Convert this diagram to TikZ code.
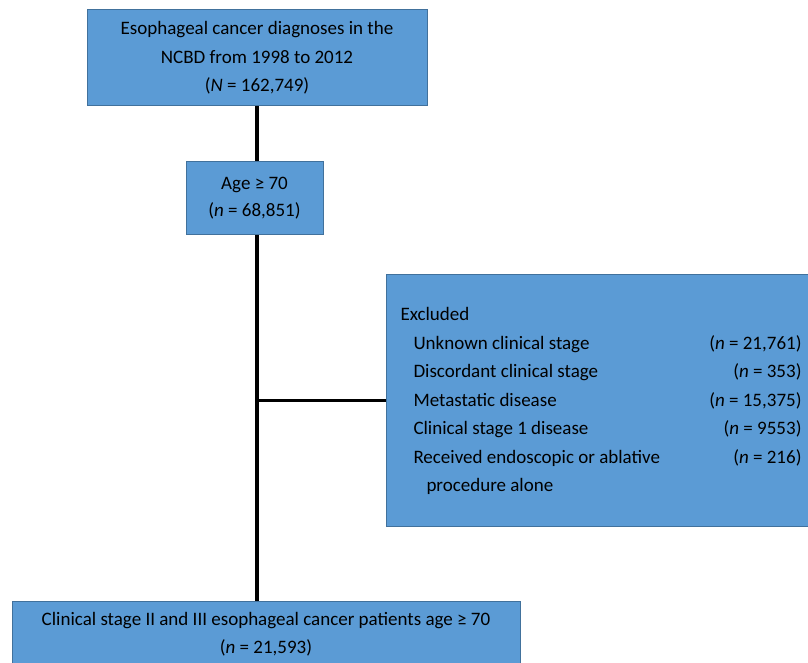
\documentclass[tikz,border=0pt]{standalone}
\usepackage{fontspec}
\setmainfont{Carlito}
\usepackage{xcolor}
\usetikzlibrary{calc}
\definecolor{boxfill}{HTML}{5B9BD5}
\definecolor{boxline}{HTML}{41719C}

\tikzset{
	flowbox/.style={draw=boxline, fill=boxfill, line width=1pt, align=center,
		font=\fontsize{19}{28.5}\selectfont},
	trunk/.style={line width=3.5pt, black},
	branch/.style={line width=3pt, black}
}

\begin{document}
\begin{tikzpicture}[x=1pt,y=-1pt]
		% Canvas
		\useasboundingbox (0,0) rectangle (808,663);
		
		% Main flow boxes
		\node[flowbox, minimum width=340pt, minimum height=96pt] (diag) at (257,58)
		{Esophageal cancer diagnoses in the\\NCBD from 1998 to 2012\\(\textit{N} = 162,749)};
		\node[flowbox, minimum width=137pt, minimum height=73pt, font=\fontsize{19}{27}\selectfont] (age) at (254.5,198)
		{Age ≥ 70\\(\textit{n} = 68,851)};
		
		% Exclusion box, runs past the right edge
		\node[flowbox, anchor=north west, align=left, minimum height=252pt, inner xsep=14pt, inner ysep=0pt] (excl) at (386,274)
		{\begin{tabular*}{401pt}{@{}l@{\extracolsep{\fill}}r@{}}
				Excluded & \\
				\hspace{13pt}Unknown clinical stage & (\textit{n} = 21,761)\\
				\hspace{13pt}Discordant clinical stage & (\textit{n} = 353)\\
				\hspace{13pt}Metastatic disease & (\textit{n} = 15,375)\\
				\hspace{13pt}Clinical stage 1 disease & (\textit{n} = 9553)\\
				\hspace{13pt}Received endoscopic or ablative & (\textit{n} = 216)\\
				\hspace{26pt}procedure alone &
		\end{tabular*}};
		
		% Final cohort, runs past the bottom edge
		\node[flowbox, anchor=north, minimum width=508pt, minimum height=100pt] (final) at (266,601) {};
		\node[anchor=north, align=center, inner sep=0pt, font=\fontsize{19}{28}\selectfont] (finaltext) at ($(final.north)+(0,11)$)
		{Clinical stage II and III esophageal cancer patients age ≥ 70\\(\textit{n} = 21,593)};
		
		% Connectors
		\draw[trunk] (diag.south) -- (diag.south |- age.north);
		\draw[trunk] (diag.south |- age.south) -- (diag.south |- final.north);
		\draw[branch] (excl.west) -- (excl.west -| diag.south);
	\end{tikzpicture}
\end{document}
